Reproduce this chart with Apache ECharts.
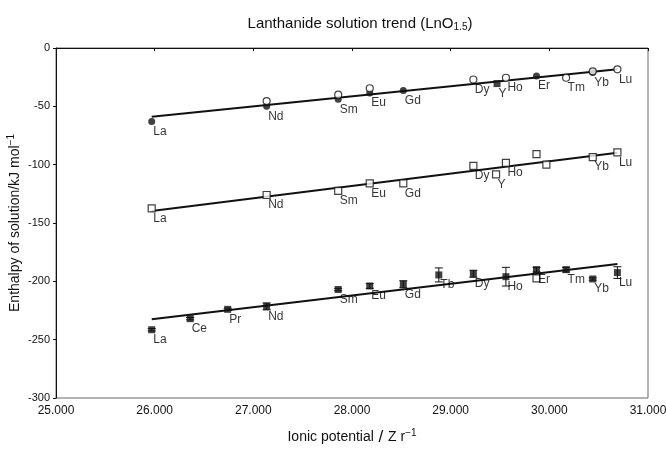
<!DOCTYPE html>
<html>
<head>
<meta charset="utf-8">
<script src="https://cdn.jsdelivr.net/npm/echarts@6/dist/echarts.min.js"></script>
<style>html,body{margin:0;padding:0;background:#fff}#c{width:666px;height:450px}</style>
</head>
<body>
<div id="c"></div>
<script>
// ---- data ----
const xTicks = [25, 26, 27, 28, 29, 30, 31];
const yTicks = [0, -50, -100, -150, -200, -250, -300];

// top group (circles)
const topNames  = ['La','Nd','Sm','Eu','Gd','Dy','Y','Ho','Er','Tm','Yb','Lu'];
const topX      = [25.97,27.135,27.86,28.18,28.52,29.23,29.47,29.56,29.87,30.17,30.44,30.69];
const topFilled = [-63,-50,-44,-38.5,-36.5,null,null,null,-24,null,-21,null];
const topOpen   = [null,-45.5,-40,-34.5,null,-27,null,-25.5,null,-25.5,-20,-18.3];
const topSquare = [null,null,null,null,null,null,-30.5,null,null,null,null,null];
const topLineX  = [25.97, 30.69];
const topLineY  = [-58.9, -18.3];

// middle group (open squares)
const midNames = ['La','Nd','Sm','Eu','Gd','Dy','Y','Ho','','','Yb','Lu'];
const midX     = [25.97,27.135,27.86,28.18,28.52,29.23,29.46,29.56,29.87,29.97,30.44,30.69];
const midY     = [-137.5,-126,-122.5,-116,-116,-101,-108.3,-98.5,-91,-100,-93.5,-89.5];
const midLineX = [25.97, 30.69];
const midLineY = [-139.7, -89.7];

// bottom group (filled squares with error bars)
const botNames = ['La','Ce','Pr','Nd','Sm','Eu','Gd','Tb','Dy','Ho','Er','Tm','Yb','Lu'];
const botX     = [25.97,26.36,26.74,27.135,27.86,28.18,28.52,28.88,29.23,29.56,29.87,30.17,30.44,30.69];
const botY     = [-241.5,-232,-224,-221.5,-207,-204,-202.5,-194.5,-193.5,-196,-190,-190,-198,-192.5];
const botErr   = [1,1,1,3,1,2,3,6,3,8,2,2,1,5];
const botOpenX = [29.87];
const botOpenY = [-197.5];
const botLineX = [25.97, 30.69];
const botLineY = [-232.6, -185.1];

// ---- build ----
function pairs(xs, ys) {
  const out = [];
  xs.forEach((x, i) => { if (ys[i] !== null && ys[i] !== undefined) out.push([x, ys[i]]); });
  return out;
}
function labelPoints(names, xs, lists) {
  return names.map((n, i) => {
    let m = null;
    lists.forEach(l => { if (l[i] !== null && l[i] !== undefined) m = (m === null) ? l[i] : Math.min(m, l[i]); });
    return { name: n, value: [xs[i], m] };
  }).filter(d => d.name && d.value[1] !== null);
}
const FONT = 'Liberation Sans, Arial, sans-serif';
const lblStyle = {
  show: true, position: 'right', distance: 1, offset: [0, 10],
  formatter: p => p.name, color: '#000', fontSize: 12, fontFamily: FONT
};
function labelSeries(data) {
  return { type: 'scatter', data: data, symbolSize: 1, itemStyle: { color: 'rgba(0,0,0,0)' },
           label: lblStyle, silent: true, z: 5 };
}
function lineSeries(xs, ys) {
  return { type: 'line', data: pairs(xs, ys), symbol: 'none', lineStyle: { color: '#111', width: 2 }, z: 2 };
}

const chart = echarts.init(document.getElementById('c'));
chart.setOption({
  animation: false,
  backgroundColor: '#fff',
  title: {
    text: '{a|Lanthanide solution trend (LnO}{s|1.5}{a|)}',
    left: 355, top: 11, textAlign: 'center',
    textStyle: { fontWeight: 'normal', rich: {
      a: { fontSize: 15, fontFamily: FONT, color: '#111', fontWeight: 'normal' },
      s: { fontSize: 10, fontFamily: FONT, color: '#111', fontWeight: 'normal', verticalAlign: 'bottom', padding: [6, 0, 0, 0] }
    } }
  },
  grid: { left: 56, right: 18, top: 48, bottom: 52, show: true, borderColor: '#666', borderWidth: 1,
          containLabel: false, outerBoundsMode: 'none' },
  xAxis: {
    type: 'value', min: 25, max: 31, interval: 1,
    name: '{a|Ionic potential}{b| / }{a|Z r}{s|−1}',
    nameLocation: 'middle', nameGap: 30,
    nameTextStyle: { rich: {
      a: { fontSize: 14, fontFamily: FONT, color: '#111' },
      b: { fontSize: 17, fontFamily: FONT, color: '#111' },
      s: { fontSize: 10, fontFamily: FONT, color: '#111', verticalAlign: 'top', padding: [0, 0, 8, 0] }
    } },
    axisLine: { lineStyle: { color: '#111', width: 1 } },
    axisTick: { length: 3, lineStyle: { color: '#111' } },
    axisLabel: { formatter: v => v.toFixed(3), fontSize: 12, fontFamily: FONT, color: '#111', margin: 7 },
    splitLine: { show: false }
  },
  yAxis: {
    type: 'value', min: -300, max: 0, interval: 50,
    name: '{a|Enthalpy of solution/kJ mol}{s|−1}',
    nameLocation: 'middle', nameGap: 32, nameRotate: 90, nameMoveOverlap: false,
    nameTextStyle: { rich: {
      a: { fontSize: 14, fontFamily: FONT, color: '#111' },
      s: { fontSize: 10, fontFamily: FONT, color: '#111', verticalAlign: 'top', padding: [0, 0, 8, 0] }
    } },
    axisLine: { show: true, lineStyle: { color: '#111', width: 1 } },
    axisTick: { show: true, length: 3, lineStyle: { color: '#111' } },
    axisLabel: { fontSize: 11, fontFamily: FONT, color: '#111', margin: 6 },
    splitLine: { show: false }
  },
  series: [
    lineSeries(topLineX, topLineY),
    lineSeries(midLineX, midLineY),
    lineSeries(botLineX, botLineY),
    { type: 'scatter', data: pairs(topX, topFilled), symbol: 'circle', symbolSize: 7,
      itemStyle: { color: '#111' }, z: 3 },
    { type: 'scatter', data: pairs(topX, topOpen), symbol: 'circle', symbolSize: 7,
      itemStyle: { color: '#fff', borderColor: '#111', borderWidth: 1.2 }, z: 3 },
    { type: 'scatter', data: pairs(topX, topSquare), symbol: 'rect', symbolSize: 7,
      itemStyle: { color: '#111' }, z: 3 },
    { type: 'scatter', data: pairs(midX, midY), symbol: 'rect', symbolSize: 7,
      itemStyle: { color: '#fff', borderColor: '#111', borderWidth: 1.2 }, z: 3 },
    { type: 'custom', z: 3,
      data: botX.map((x, i) => [x, botY[i], botErr[i]]),
      renderItem: function (params, api) {
        const x = api.value(0), y = api.value(1), e = api.value(2);
        const hi = api.coord([x, y + e]), lo = api.coord([x, y - e]);
        const w = 4;
        const st = { stroke: '#111', lineWidth: 1 };
        return { type: 'group', children: [
          { type: 'line', shape: { x1: hi[0], y1: hi[1], x2: lo[0], y2: lo[1] }, style: st },
          { type: 'line', shape: { x1: hi[0] - w, y1: hi[1], x2: hi[0] + w, y2: hi[1] }, style: st },
          { type: 'line', shape: { x1: lo[0] - w, y1: lo[1], x2: lo[0] + w, y2: lo[1] }, style: st }
        ] };
      }
    },
    { type: 'scatter', data: pairs(botX, botY), symbol: 'rect', symbolSize: 7,
      itemStyle: { color: '#111' }, z: 4 },
    { type: 'scatter', data: pairs(botOpenX, botOpenY), symbol: 'rect', symbolSize: 7,
      itemStyle: { color: '#fff', borderColor: '#111', borderWidth: 1.2 }, z: 4 },
    labelSeries(labelPoints(topNames, topX, [topFilled, topOpen, topSquare])),
    labelSeries(labelPoints(midNames, midX, [midY])),
    labelSeries(labelPoints(botNames, botX, [botY]))
  ]
});
</script>
</body>
</html>
